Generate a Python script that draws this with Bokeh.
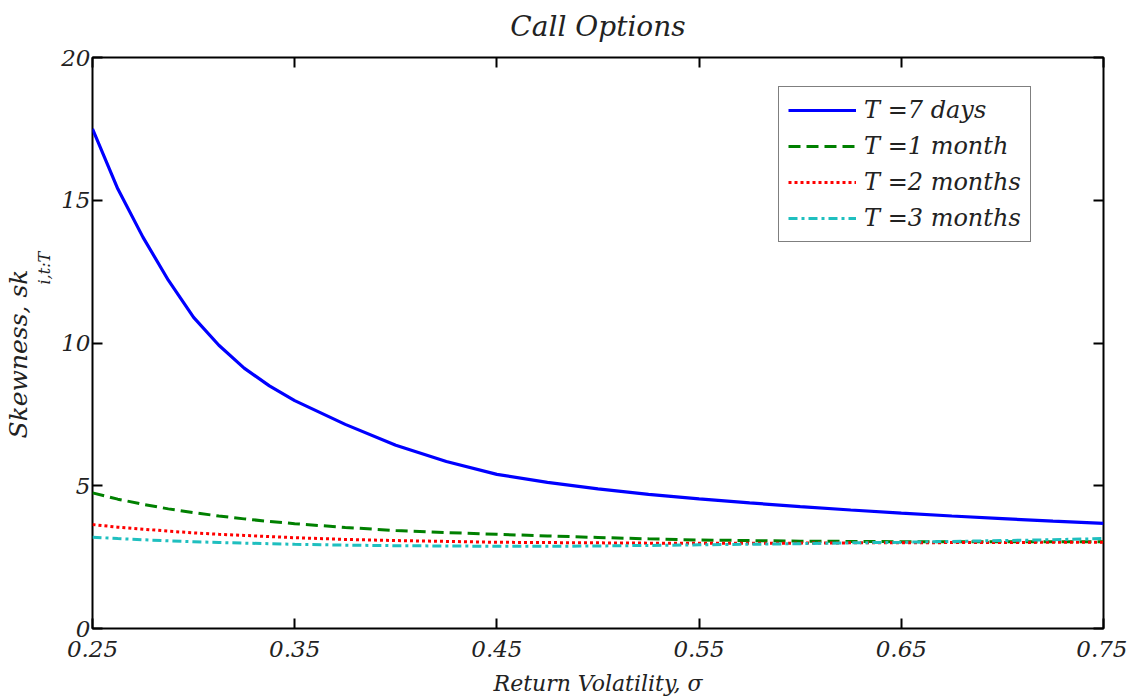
from bokeh.plotting import figure
from bokeh.models import FixedTicker, LinearAxis, Legend, LegendItem, Range1d, Title
from bokeh.embed import file_html
from bokeh.resources import INLINE

# ---- data ----
sigma = [0.25, 0.2625, 0.275, 0.2875, 0.30, 0.3125, 0.325, 0.3375, 0.35, 0.375, 0.40,
         0.425, 0.45, 0.475, 0.50, 0.525, 0.55, 0.575, 0.60, 0.625, 0.65, 0.675,
         0.70, 0.725, 0.75]
sk_7days = [17.5, 15.4, 13.7, 12.2, 10.9, 9.92, 9.12, 8.5, 7.98, 7.15, 6.42,
            5.85, 5.40, 5.12, 4.89, 4.70, 4.54, 4.40, 4.27, 4.15, 4.04, 3.94,
            3.85, 3.76, 3.68]
sk_1month = [4.75, 4.53, 4.35, 4.19, 4.06, 3.94, 3.84, 3.75, 3.67, 3.54, 3.43,
             3.36, 3.30, 3.24, 3.19, 3.14, 3.10, 3.08, 3.06, 3.05, 3.04, 3.04,
             3.04, 3.04, 3.04]
sk_2months = [3.64, 3.55, 3.48, 3.41, 3.35, 3.30, 3.26, 3.22, 3.18, 3.12, 3.08,
              3.05, 3.02, 3.01, 3.00, 2.99, 2.99, 2.99, 2.99, 3.00, 3.00, 3.01,
              3.01, 3.02, 3.02]
sk_3months = [3.20, 3.15, 3.11, 3.07, 3.04, 3.01, 2.99, 2.97, 2.95, 2.92, 2.90,
              2.89, 2.88, 2.88, 2.89, 2.91, 2.93, 2.95, 2.97, 3.00, 3.02, 3.05,
              3.08, 3.11, 3.15]
series_labels = ["T =7 days", "T =1 month", "T =2 months", "T =3 months"]
x_ticks = [0.25, 0.35, 0.45, 0.55, 0.65, 0.75]
y_ticks = [0, 5, 10, 15, 20]

FONT = "DejaVu Serif"
TXT = "#222222"

p = figure(frame_width=1011, frame_height=571,
           min_border_left=92, min_border_right=24,
           min_border_top=57, min_border_bottom=70,
           x_range=Range1d(0.25, 0.75), y_range=Range1d(0, 20),
           output_backend="svg", toolbar_location=None)

p.background_fill_color = "white"
p.border_fill_color = "white"
p.grid.visible = False
p.outline_line_color = "black"
p.outline_line_width = 2
p.outline_line_alpha = 1


def style_axis(ax, ticks, show_labels=True):
    ax.ticker = FixedTicker(ticks=ticks)
    ax.axis_line_color = None
    ax.major_tick_in = 10
    ax.major_tick_out = 0
    ax.major_tick_line_width = 2
    ax.major_tick_line_color = "black"
    ax.minor_tick_line_color = None
    ax.major_label_text_font = FONT
    ax.major_label_text_font_style = "italic"
    ax.major_label_text_color = TXT
    ax.major_label_text_font_size = "23px"
    if not show_labels:
        ax.major_label_overrides = {t: "" for t in ticks}
        ax.major_label_standoff = 0


style_axis(p.xaxis[0], x_ticks)
style_axis(p.yaxis[0], y_ticks)
p.xaxis[0].major_label_standoff = 12
p.yaxis[0].major_label_standoff = 2
p.xaxis[0].axis_label = "Return Volatility, σ"
p.xaxis[0].axis_label_text_font = FONT
p.xaxis[0].axis_label_text_font_style = "italic"
p.xaxis[0].axis_label_text_font_size = "22px"
p.xaxis[0].axis_label_text_color = TXT
p.xaxis[0].axis_label_standoff = 11

# top axis: mirrored ticks, and carries the chart title
top_ax = LinearAxis()
style_axis(top_ax, x_ticks, show_labels=False)
top_ax.axis_label = "Call Options"
top_ax.axis_label_text_font = FONT
top_ax.axis_label_text_font_style = "italic"
top_ax.axis_label_text_font_size = "28px"
top_ax.axis_label_text_color = TXT
top_ax.axis_label_standoff = 15
p.add_layout(top_ax, "above")

right_ax = LinearAxis()
style_axis(right_ax, y_ticks, show_labels=False)
p.add_layout(right_ax, "right")

# y-axis label "Skewness, sk_{i,t:T}" as two vertical titles on the left
sub = Title(text="i,t:T", align="left", offset=344, standoff=5,
            vertical_align="top",
            text_font=FONT, text_font_style="italic", text_font_size="16px",
            text_color=TXT)
main = Title(text="Skewness, sk", align="left", offset=190, standoff=0,
             text_font=FONT, text_font_style="italic", text_font_size="25px",
             text_color=TXT)
p.add_layout(sub, "left")
p.add_layout(main, "left")

r1 = p.line(sigma, sk_7days, line_color="#0000FF", line_width=3.2)
r2 = p.line(sigma, sk_1month, line_color="#008000", line_width=3, line_dash="12 6")
r3 = p.line(sigma, sk_2months, line_color="#FF0000", line_width=3, line_dash="3 3")
r4 = p.line(sigma, sk_3months, line_color="#1FBFBF", line_width=3, line_dash="9 4 3 4")

legend = Legend(items=[LegendItem(label=lab, renderers=[r])
                       for lab, r in zip(series_labels, [r1, r2, r3, r4])],
                location=(686, 386))
legend.border_line_color = "black"
legend.border_line_width = 1.5
legend.background_fill_color = "white"
legend.background_fill_alpha = 1
legend.label_text_font = FONT
legend.label_text_font_style = "italic"
legend.label_text_font_size = "24px"
legend.label_text_color = TXT
legend.glyph_width = 68
legend.glyph_height = 20
legend.label_standoff = 8
legend.label_height = 26
legend.spacing = 8
legend.padding = 9
legend.margin = 0
p.add_layout(legend)

open("out.html", "w").write(file_html(p, INLINE))
